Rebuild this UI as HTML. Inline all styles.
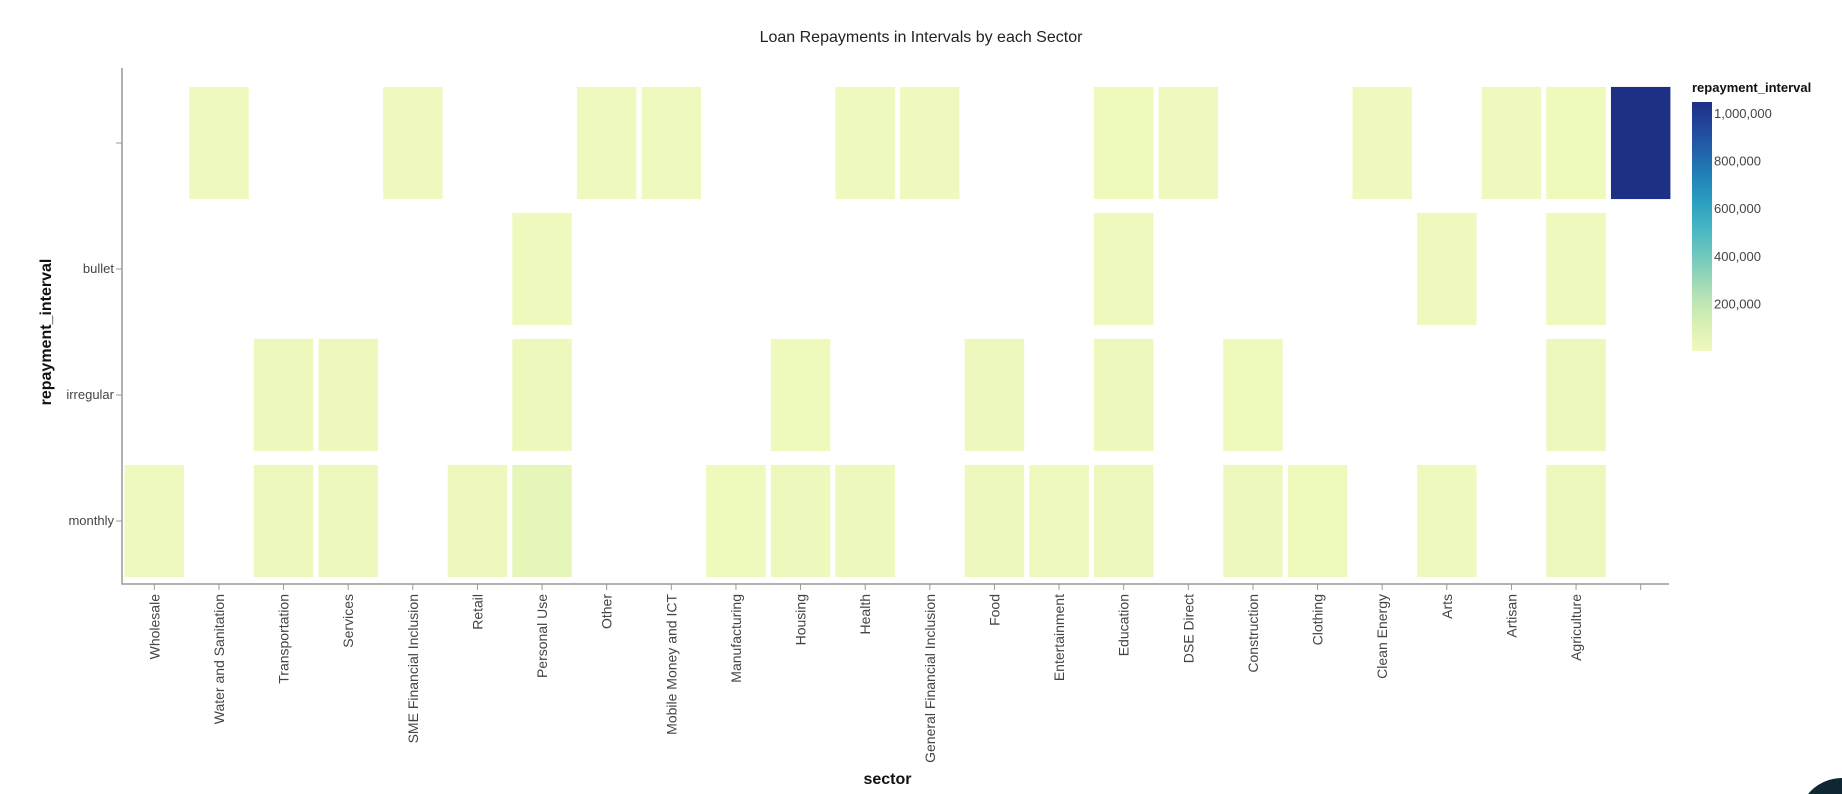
<!DOCTYPE html>
<html><head><meta charset="utf-8">
<style>
html,body{margin:0;padding:0;background:#fff;width:1842px;height:794px;overflow:hidden;font-family:"Liberation Sans",sans-serif}
svg{display:block;overflow:hidden}
</style></head>
<body>
<svg id="chart" width="1842" height="794" xmlns="http://www.w3.org/2000/svg">
<defs>
<linearGradient id="lg" x1="0" y1="1" x2="0" y2="0">
<stop offset="0" stop-color="#eff9bd"/><stop offset="0.1" stop-color="#dbf1b4"/><stop offset="0.2" stop-color="#bde5b5"/><stop offset="0.3" stop-color="#94d5b9"/><stop offset="0.4" stop-color="#69c5be"/><stop offset="0.5" stop-color="#45b4c2"/><stop offset="0.6" stop-color="#2c9ec0"/><stop offset="0.7" stop-color="#2182b8"/><stop offset="0.8" stop-color="#2163aa"/><stop offset="0.9" stop-color="#23479c"/><stop offset="1" stop-color="#1c3185"/>
</linearGradient>
</defs>
<text x="921" y="42" text-anchor="middle" font-size="16" fill="#222">Loan Repayments in Intervals by each Sector</text>
<g id="plot"></g>
<circle cx="1842" cy="822" r="44" fill="#0f2633"/>
</svg>
<script>
const sectors = ["Wholesale","Water and Sanitation","Transportation","Services","SME Financial Inclusion","Retail","Personal Use","Other","Mobile Money and ICT","Manufacturing","Housing","Health","General Financial Inclusion","Food","Entertainment","Education","DSE Direct","Construction","Clothing","Clean Energy","Arts","Artisan","Agriculture",""];
const intervals = ["","bullet","irregular","monthly"];
const cellSector = ["Water and Sanitation","SME Financial Inclusion","Other","Mobile Money and ICT","Health","General Financial Inclusion","Education","DSE Direct","Clean Energy","Artisan","Agriculture","",
"Personal Use","Education","Arts","Agriculture",
"Transportation","Services","Personal Use","Housing","Food","Education","Construction","Agriculture",
"Wholesale","Transportation","Services","Retail","Personal Use","Manufacturing","Housing","Health","Food","Entertainment","Education","Construction","Clothing","Arts","Agriculture"];
const cellInterval = ["","","","","","","","","","","","",
"bullet","bullet","bullet","bullet",
"irregular","irregular","irregular","irregular","irregular","irregular","irregular","irregular",
"monthly","monthly","monthly","monthly","monthly","monthly","monthly","monthly","monthly","monthly","monthly","monthly","monthly","monthly","monthly"];
const cellValue = [3000,2000,4000,3000,5000,2000,6000,2000,2000,1500,6000,1046000,
4000,3000,2000,5000,
8000,7000,9000,6000,8000,9000,6000,10000,
5000,9000,8000,7000,45000,6000,8000,9000,10000,5000,12000,8000,6000,4000,12000];
const legendTicks = [200000,400000,600000,800000,1000000];

const NS="http://www.w3.org/2000/svg";
const g=document.getElementById('plot');
const X0=122,X1=1673,Y0=80,Y1=584;
const bw=(X1-X0)/sectors.length, bh=(Y1-Y0)/intervals.length;
const xs=s=>X0+sectors.indexOf(s)*bw;
const ys=i=>Y0+intervals.indexOf(i)*bh;
const vmin=0,vmax=Math.max(...cellValue);
const stops=["#eff9bd","#dbf1b4","#bde5b5","#94d5b9","#69c5be","#45b4c2","#2c9ec0","#2182b8","#2163aa","#23479c","#1c3185"];
function hex(h){return [1,3,5].map(i=>parseInt(h.substr(i,2),16));}
function color(v){let t=(v-vmin)/(vmax-vmin);t=Math.max(0,Math.min(1,t))*10;const i=Math.min(9,Math.floor(t)),f=t-i;const a=hex(stops[i]),b=hex(stops[i+1]);return 'rgb('+a.map((c,k)=>Math.round(c+(b[k]-c)*f)).join(',')+')';}
function el(t,attrs){const e=document.createElementNS(NS,t);for(const k in attrs)e.setAttribute(k,attrs[k]);g.appendChild(e);return e;}

for(let k=0;k<cellValue.length;k++){
  const r=el('rect',{x:xs(cellSector[k])+bw*0.04,y:ys(cellInterval[k])+bh*0.055,width:bw*0.92,height:bh*0.89,fill:color(cellValue[k])});
  
  
}
const ax=el('path',{d:`M${X0},${Y0-12}V${Y1}H${X1-4}`,stroke:'#999',fill:'none','stroke-width':1.5});


sectors.forEach((s,i)=>{
  const cx=X0+(i+0.5)*bw;
  el('line',{x1:cx,x2:cx,y1:Y1,y2:Y1+6,stroke:'#999'});
  const t=el('text',{transform:`translate(${cx+5},${Y1+10}) rotate(-90)`,'text-anchor':'end','font-size':14,fill:'#444'});
  t.textContent=s;
  
  
});
intervals.forEach((s,i)=>{
  const cy=Y0+(i+0.5)*bh;
  el('line',{x1:X0-6,x2:X0,y1:cy,y2:cy,stroke:'#999'});
  const t=el('text',{x:X0-8,y:cy+4,'text-anchor':'end','font-size':13,fill:'#444'});
  t.textContent=s;
  
  
});
const xt=el('text',{x:(X0+X1)/2-10,y:784,'text-anchor':'middle','font-size':16,'font-weight':'bold',fill:'#111'});
xt.textContent='sector';


const yt=el('text',{transform:`translate(51,${(Y0+Y1)/2}) rotate(-90)`,'text-anchor':'middle','font-size':16,'font-weight':'bold',fill:'#111'});
yt.textContent='repayment_interval';


const LT=102,LB=351,LX=1692;
const lt=el('text',{x:LX,y:92,'font-size':13,'font-weight':'bold',fill:'#111'});
lt.textContent='repayment_interval';


const lb=el('rect',{x:LX,y:LT,width:20,height:LB-LT,fill:'url(#lg)'});


legendTicks.forEach(v=>{
  const y=LB-(v-vmin)/(vmax-vmin)*(LB-LT);
  const t=el('text',{x:LX+22,y:y+5,'font-size':13,fill:'#444'});
  t.textContent=v.toLocaleString('en-US');
  
  
});
</script>
</body></html>
